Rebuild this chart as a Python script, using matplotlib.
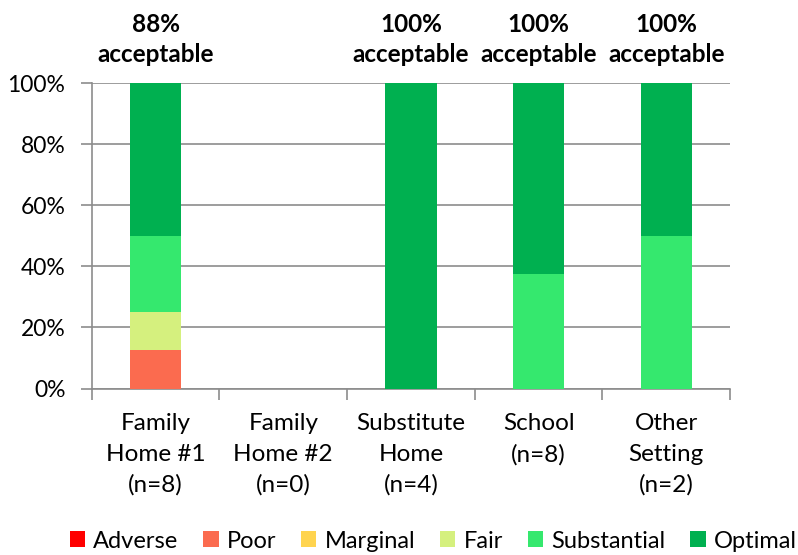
import matplotlib
matplotlib.use("Agg")
import matplotlib.pyplot as plt
import numpy as np

plt.rcParams['font.family'] = ['Lato', 'DejaVu Sans']

# Data (percent of ratings per setting)
settings = ["Family\nHome #1\n(n=8)", "Family\nHome #2\n(n=0)", "Substitute\nHome\n(n=4)",
            "School\n(n=8)", "Other\nSetting\n(n=2)"]
levels = ["Adverse", "Poor", "Marginal", "Fair", "Substantial", "Optimal"]
adverse = [0, 0, 0, 0, 0]
poor = [12.5, 0, 0, 0, 0]
marginal = [0, 0, 0, 0, 0]
fair = [12.5, 0, 0, 0, 0]
substantial = [25, 0, 0, 37.5, 50]
optimal = [50, 0, 100, 62.5, 50]
acceptable = ["88%", "", "100%", "100%", "100%"]

colors = ["#FF0000", "#FB6B4F", "#FFD44F", "#D5F07E", "#35E86E", "#00B050"]
series = [adverse, poor, marginal, fair, substantial, optimal]

fig = plt.figure(figsize=(7.98, 5.55), dpi=100)
ax = fig.add_axes([0.115, 0.30, 0.8, 0.55])

x = np.arange(len(settings))
bottom = np.zeros(len(settings))
for name, vals, c in zip(levels, series, colors):
    ax.bar(x, vals, width=0.4, bottom=bottom, color=c, label=name, zorder=3)
    bottom += np.array(vals)

# labels above bars
for i, lab in enumerate(acceptable):
    if lab:
        ax.text(i, 105.5, lab + "\nacceptable", ha="center", va="bottom",
                fontsize=17.5, fontweight="bold", linespacing=1.4)

ax.set_xlim(-0.5, len(settings) - 0.5)
ax.set_ylim(0, 100)
ax.set_yticks(np.arange(0, 101, 20))
ax.set_yticklabels([f"{v}%" for v in range(0, 101, 20)], fontsize=16.5)
ax.yaxis.grid(True, color="#8c8c8c", linewidth=1.2, zorder=0)

ax.set_xticks(x)
ax.set_xticklabels(settings, fontsize=17.5, linespacing=1.55)
ax.tick_params(axis="x", length=0, pad=18)
ax.set_xticks(np.arange(-0.5, len(settings)), minor=True)
ax.tick_params(axis="x", which="minor", length=8, color="#8c8c8c", width=1.2)
ax.tick_params(axis="y", length=8, color="#8c8c8c", width=1.2, pad=11)

for s in ["top", "right"]:
    ax.spines[s].set_visible(False)
for s in ["left", "bottom"]:
    ax.spines[s].set_color("#8c8c8c")
    ax.spines[s].set_linewidth(1.2)

handles, labels = ax.get_legend_handles_labels()
fig.legend(handles, labels, loc="center", bbox_to_anchor=(0.543, 0.025), ncol=6,
           frameon=False, fontsize=17, handlelength=0.65, handleheight=0.65,
           handletextpad=0.35, columnspacing=1.05, borderaxespad=0)

fig.savefig("out.png", dpi=100)
